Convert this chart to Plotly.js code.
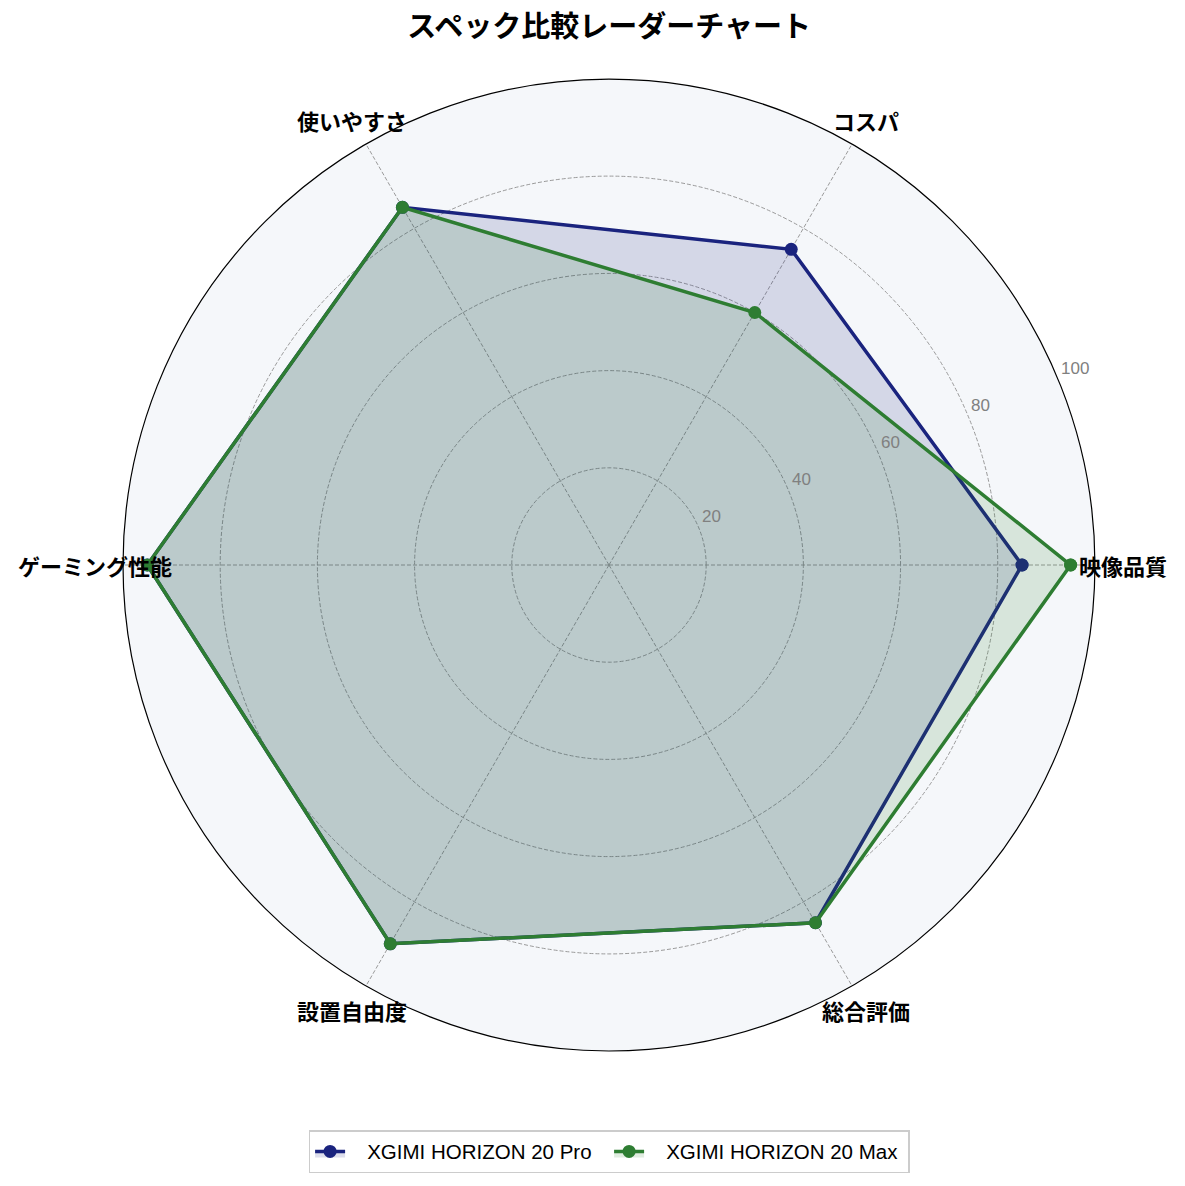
<!DOCTYPE html>
<html>
    <head>
        <meta charset="utf-8">
        <script src="https://cdn.plot.ly/plotly-3.0.1.min.js"></script>
        <style>body{margin:0;background:#fff;}</style>
    </head>
    <body>
        <div id="plot" style="width:1185px;height:1186px;"></div>
        <script type="text/javascript">
            var categories = ['映像品質', 'コスパ', '使いやすさ', 'ゲーミング性能', '設置自由度', '総合評価'];
            var proValues = [85, 75, 85, 95, 90, 85];
            var maxValues = [95, 60, 85, 95, 90, 85];
            var seriesNames = ['XGIMI HORIZON 20 Pro', 'XGIMI HORIZON 20 Max'];
            var radialTicks = [20, 40, 60, 80, 100];

            var W = 1185, H = 1186;
            var cx = 609, cy = 565, outerR = 486, labelR = 514;
            var rLabelAngle = 22.5 * Math.PI / 180;

            function closed(arr) { return arr.concat([arr[0]]); }

            function trace(values, name, color, fill) {
                return {
                    type: 'scatterpolar',
                    r: closed(values),
                    theta: closed(categories),
                    // a little padding between legend symbol and text
                    name: '\u00a0\u00a0\u00a0' + name,
                    mode: 'lines+markers',
                    line: {color: color, width: 3.5},
                    marker: {color: color, size: 13},
                    fill: 'toself',
                    fillcolor: fill
                };
            }

            var data = [
                trace(proValues, seriesNames[0], '#1a237e', 'rgba(26,35,126,0.15)'),
                trace(maxValues, seriesNames[1], '#2e7d32', 'rgba(46,125,50,0.15)')
            ];

            // category labels centred just outside the outer ring
            var annotations = categories.map(function(c, i) {
                var a = i * 2 * Math.PI / categories.length;
                return {
                    text: '<b>' + c + '</b>',
                    xref: 'paper', yref: 'paper',
                    x: (cx + labelR * Math.cos(a)) / W,
                    y: (H - cy + labelR * Math.sin(a)) / H,
                    xanchor: 'center', yanchor: 'middle',
                    showarrow: false,
                    font: {size: 22, color: '#000', family: '"Noto Sans CJK JP", sans-serif'}
                };
            });

            // radial tick labels, sitting just above the 22.5 degree spoke
            radialTicks.forEach(function(v) {
                var rr = v / 100 * outerR;
                annotations.push({
                    text: String(v),
                    xref: 'paper', yref: 'paper',
                    x: (cx + rr * Math.cos(rLabelAngle) + 1) / W,
                    y: (H - cy + rr * Math.sin(rLabelAngle) + 11) / H,
                    xanchor: 'left', yanchor: 'middle',
                    showarrow: false,
                    font: {size: 17, color: '#808080', family: '"Liberation Sans", Arial, sans-serif'}
                });
            });

            var layout = {
                width: W,
                height: H,
                margin: {l: 0, r: 0, t: 0, b: 0},
                paper_bgcolor: '#ffffff',
                font: {family: '"Noto Sans CJK JP", sans-serif', color: '#000'},
                title: {
                    text: '<b>スペック比較レーダーチャート</b>',
                    font: {size: 29, family: '"Noto Sans CJK JP", sans-serif', color: '#000'},
                    x: 0.514, xanchor: 'center',
                    y: 0.977, yanchor: 'middle'
                },
                annotations: annotations,
                polar: {
                    domain: {x: [0.1038, 0.924], y: [0.1138, 0.9334]},
                    bgcolor: '#f5f7fa',
                    radialaxis: {
                        range: [0, 100],
                        tickvals: radialTicks,
                        angle: 22.5,
                        showticklabels: false,
                        showline: false,
                        ticks: '',
                        gridcolor: '#9a9a9a',
                        griddash: '4px,2px',
                        gridwidth: 0.8
                    },
                    angularaxis: {
                        direction: 'counterclockwise',
                        rotation: 0,
                        showline: true,
                        linecolor: '#000000',
                        linewidth: 1.2,
                        gridcolor: '#9a9a9a',
                        griddash: '4px,2px',
                        gridwidth: 0.8,
                        ticks: '',
                        showticklabels: false
                    }
                },
                showlegend: true,
                legend: {
                    orientation: 'h',
                    x: 0.514, xanchor: 'center',
                    y: 0.029, yanchor: 'middle',
                    entrywidth: 254,
                    bordercolor: '#cccccc',
                    borderwidth: 1.5,
                    bgcolor: '#ffffff',
                    font: {size: 20.5, family: '"Liberation Sans", Arial, sans-serif', color: '#000'}
                }
            };

            Plotly.newPlot('plot', data, layout, {displayModeBar: false});
        </script>
    </body>
</html>
